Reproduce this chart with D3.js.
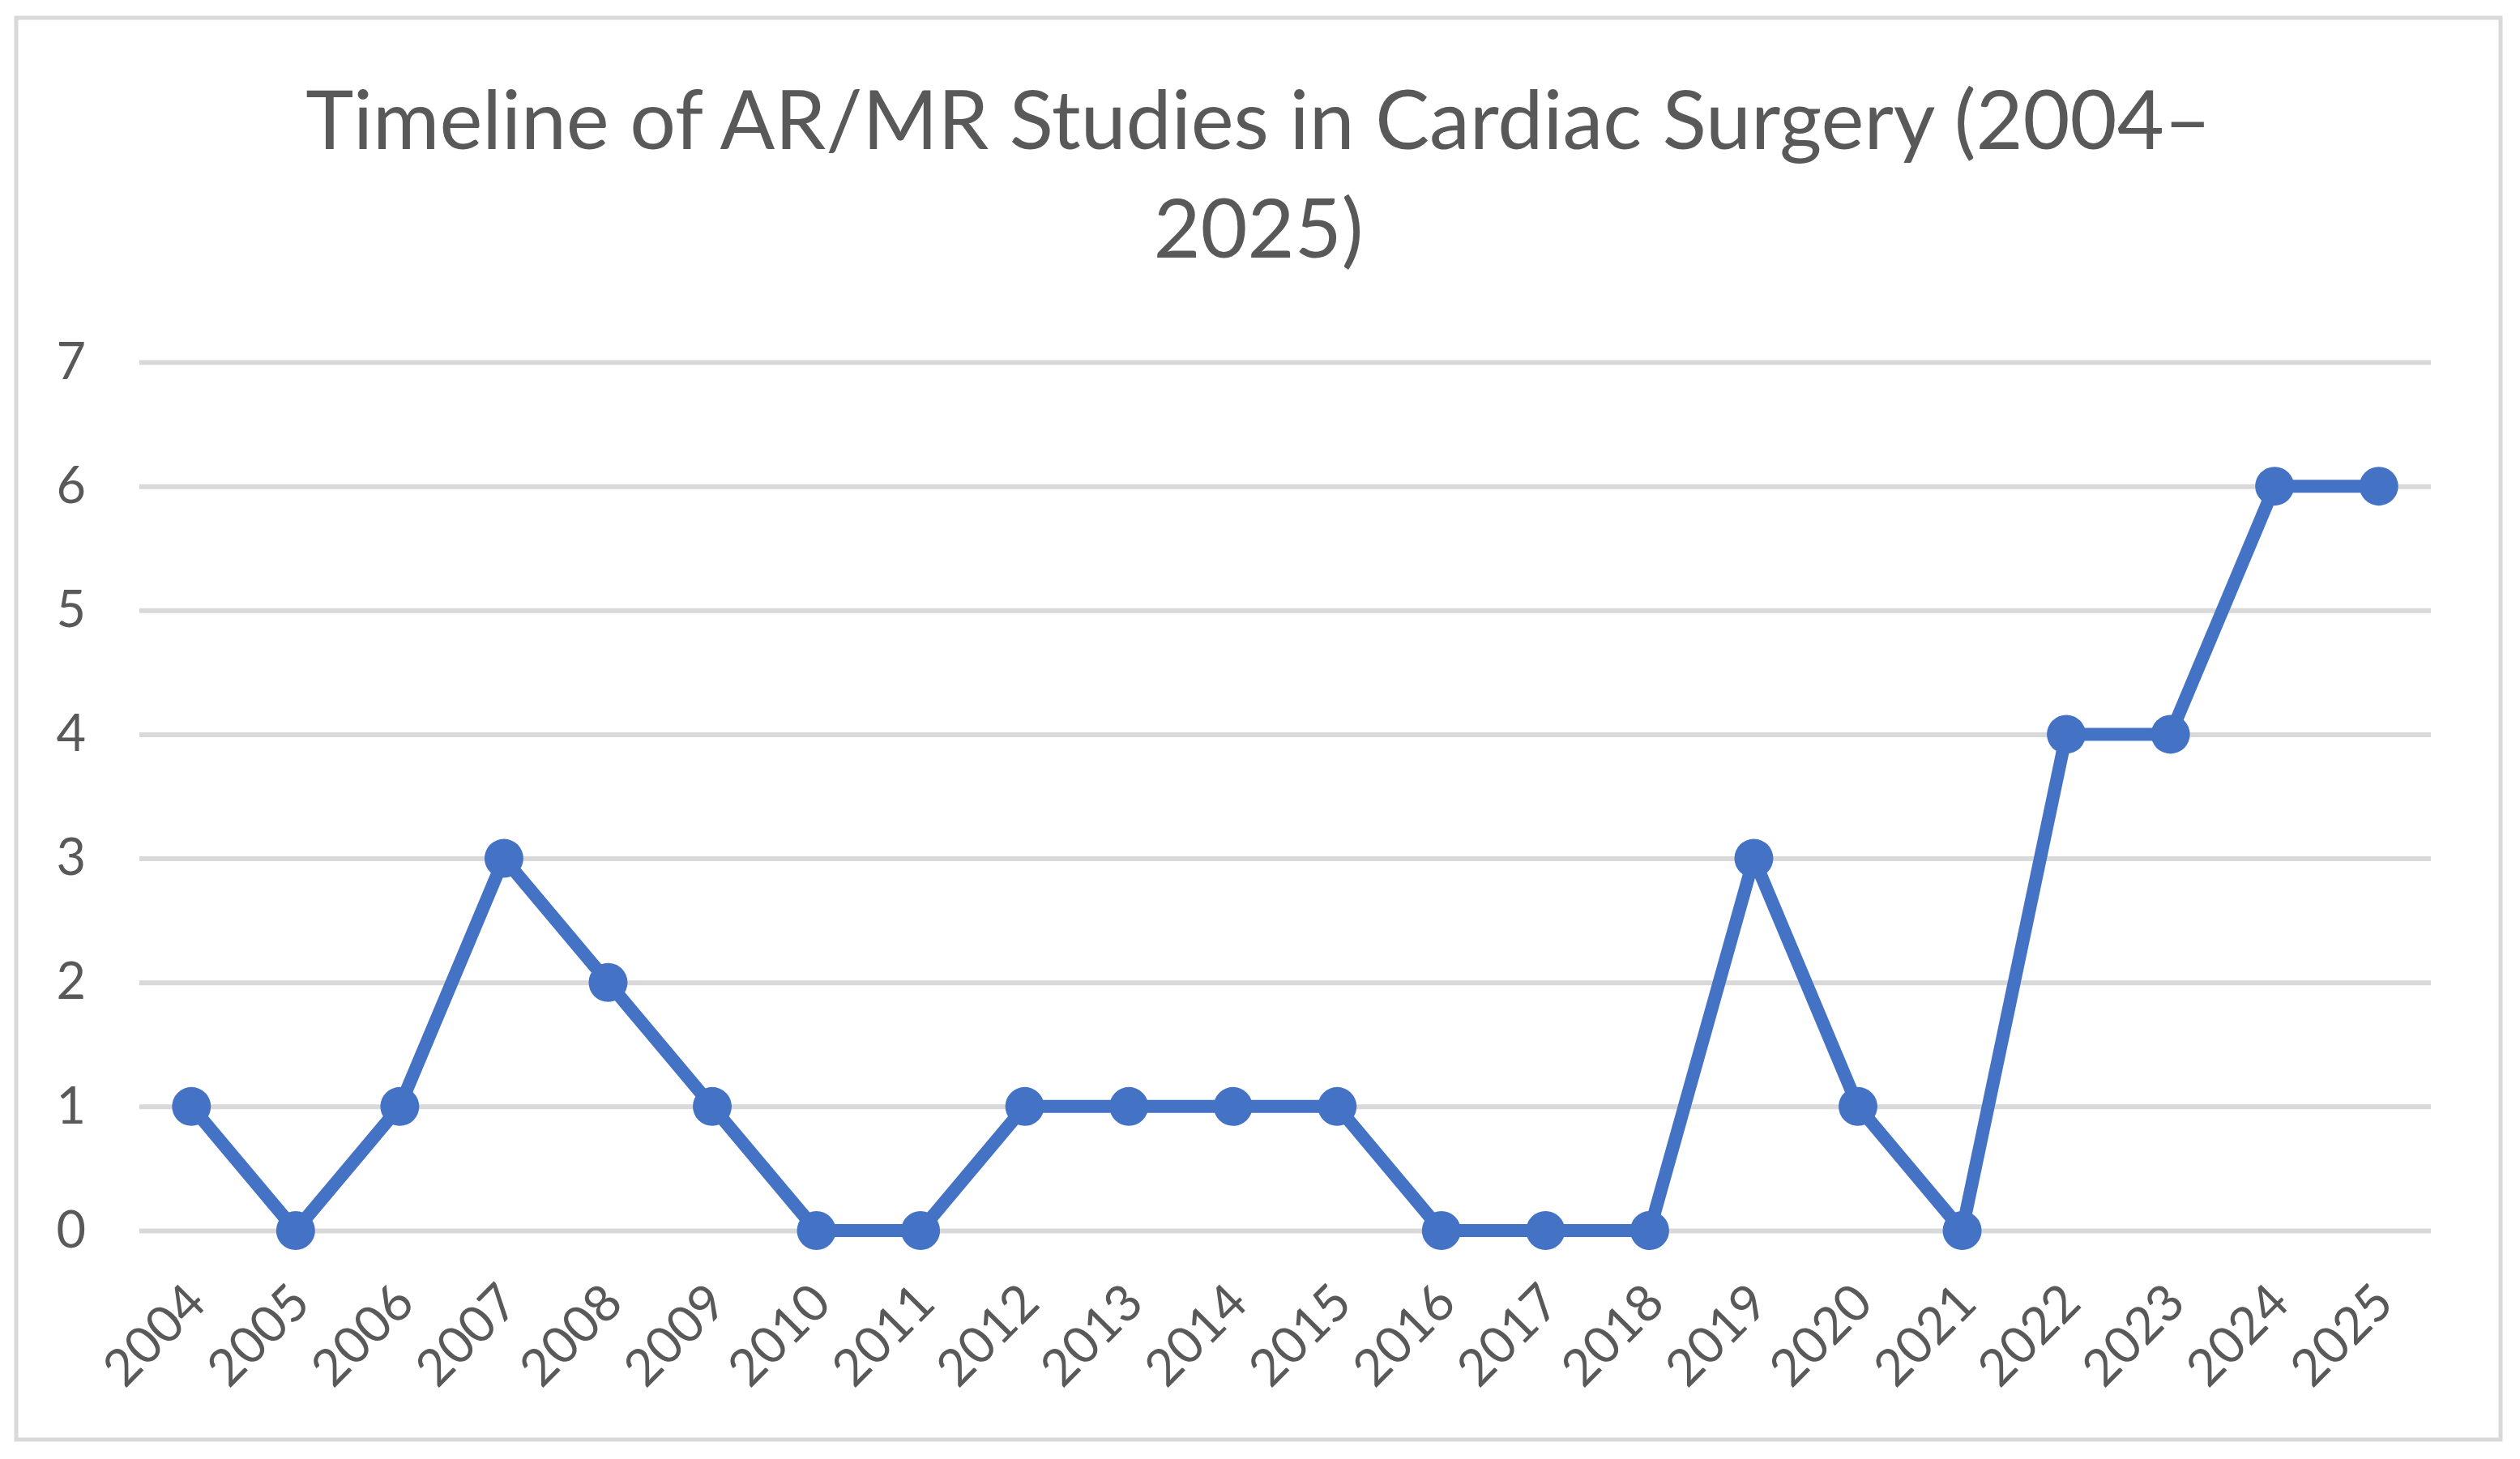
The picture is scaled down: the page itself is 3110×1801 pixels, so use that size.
<!DOCTYPE html>
<meta charset="utf-8">
<head>
    <script src="https://d3js.org/d3.v7.min.js"></script>
    <title>Timeline of AR/MR Studies in Cardiac Surgery</title>
</head>
<body>
    <div id="chart"></div>
</body>
<style>
    body {
        margin: 0;
        background: #fff;
        font-family: Lato, 'Open Sans', sans-serif;
    }
</style>
<script>
    // data
    var years = ["2004", "2005", "2006", "2007", "2008", "2009", "2010", "2011", "2012", "2013", "2014",
        "2015", "2016", "2017", "2018", "2019", "2020", "2021", "2022", "2023", "2024", "2025"];
    var studies = [1, 0, 1, 3, 2, 1, 0, 0, 1, 1, 1, 1, 0, 0, 0, 3, 1, 0, 4, 4, 6, 6];
    var yTicks = [0, 1, 2, 3, 4, 5, 6, 7];
    var titleLines = ["Timeline of AR/MR Studies in Cardiac Surgery (2004\u2013", "2025)"];

    var W = 3110,
        H = 1801;
    var margin = {
        top: 447,
        right: 110,
        bottom: 282,
        left: 172
    };
    var width = W - margin.left - margin.right,
        height = H - margin.top - margin.bottom;

    var textColor = "#595959",
        gridColor = "#d9d9d9",
        lineColor = "#4472c4";

    var svg = d3.select("#chart")
        .append("svg")
        .attr("width", W)
        .attr("height", H);

    svg.append("rect")
        .attr("width", W)
        .attr("height", H)
        .attr("fill", "#fff");

    // chart area border
    svg.append("rect")
        .attr("x", 20)
        .attr("y", 22)
        .attr("width", 3066)
        .attr("height", 1755)
        .attr("fill", "none")
        .attr("stroke", gridColor)
        .attr("stroke-width", 5);

    // title, two lines, fitted to the original width
    var title = svg.append("g")
        .attr("fill", textColor)
        .attr("text-anchor", "middle")
        .style("font-size", "96px");
    var t1 = title.append("text")
        .attr("x", 1553)
        .attr("y", 184)
        .text(titleLines[0]);
    var fit = 2352 / t1.node().getComputedTextLength();
    title.style("font-size", (96 * fit) + "px");
    title.append("text")
        .attr("x", 1553)
        .attr("y", 318)
        .text(titleLines[1]);

    var g = svg.append("g")
        .attr("transform", "translate(" + margin.left + "," + margin.top + ")");

    var x = d3.scalePoint()
        .domain(years)
        .range([0, width])
        .padding(0.5);

    var y = d3.scaleLinear()
        .domain([0, 7])
        .range([height, 0]);

    // gridlines + y labels
    g.append("g")
        .call(d3.axisLeft(y).tickValues(yTicks).tickSize(-width).tickPadding(66).tickFormat(d3.format("d")))
        .call(function (a) {
            a.select(".domain").remove();
            a.selectAll(".tick line").attr("stroke", gridColor).attr("stroke-width", 6);
            a.selectAll(".tick text")
                .attr("fill", textColor)
                .style("font-family", "Lato, sans-serif")
                .style("font-size", "63px");
        });

    // x labels, rotated
    g.append("g")
        .attr("transform", "translate(0," + height + ")")
        .call(d3.axisBottom(x).tickSize(0).tickPadding(0))
        .call(function (a) {
            a.select(".domain").remove();
            a.selectAll(".tick text")
                .attr("fill", textColor)
                .style("font-family", "Lato, sans-serif")
                .style("font-size", "63px")
                .attr("text-anchor", "end")
                .attr("y", 0)
                .attr("dy", "0.35em")
                .attr("transform", "translate(5,77) rotate(-45)");
        });

    var pts = years.map(function (d, i) {
        return {
            year: d,
            value: studies[i]
        };
    });

    var line = d3.line()
        .x(function (d) {
            return x(d.year);
        })
        .y(function (d) {
            return y(d.value);
        });

    g.append("path")
        .datum(pts)
        .attr("d", line)
        .attr("fill", "none")
        .attr("stroke", lineColor)
        .attr("stroke-width", 16)
        .attr("stroke-linejoin", "round")
        .attr("stroke-linecap", "round");

    g.selectAll(".dot")
        .data(pts)
        .enter()
        .append("circle")
        .attr("class", "dot")
        .attr("cx", function (d) {
            return x(d.year);
        })
        .attr("cy", function (d) {
            return y(d.value);
        })
        .attr("r", 24)
        .attr("fill", lineColor);
</script>
